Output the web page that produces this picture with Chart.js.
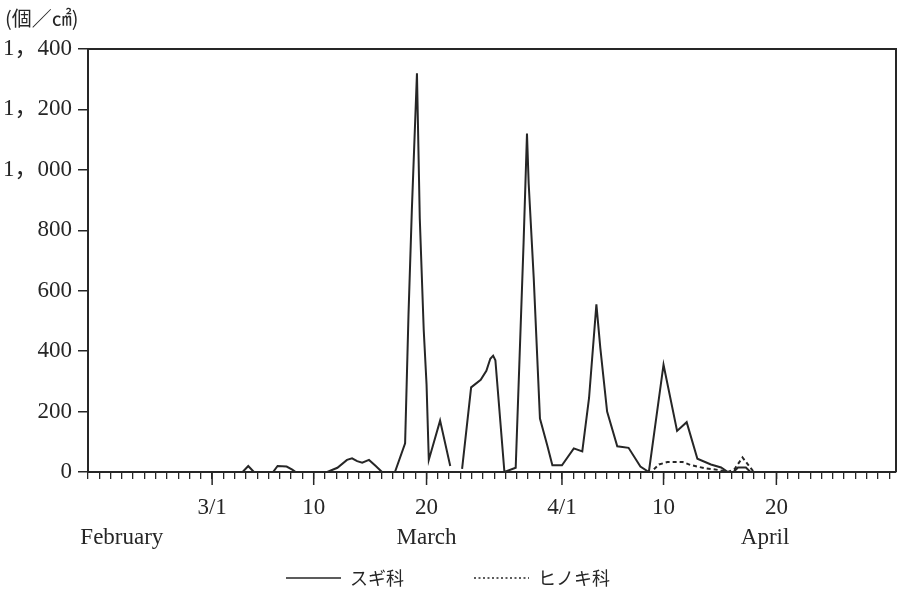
<!DOCTYPE html>
<html>
<head>
<meta charset="utf-8">
<script src="https://cdn.jsdelivr.net/npm/chart.js@4.4.1/dist/chart.umd.min.js"></script>
<style>
html, body { margin: 0; padding: 0; background: #fff; }
</style>
</head>
<body>
<canvas id="pollen" width="899" height="597"></canvas>
<script>
'use strict';
// day numbers counted from March 1 (= 0), so Feb 18 = -11, Apr 1 = 31
const sugiDays = [-11, 2.7, 3.2, 3.7, 5.4, 5.8, 6.6, 7.1, 7.4, 10.2, 11.1, 11.95, 12.4, 12.85, 13.3, 13.9, 14.5, 15.05,
  16.2, 17.1, 17.4, 17.7, 18.15, 18.4, 18.75, 19.0, 19.2, 20.2, 21.1, 21.6, 22.15, 22.95, 23.8, 24.3, 24.65, 24.9, 25.1, 25.9,
  26.9, 27.6, 27.9, 28.05, 28.5, 29.05, 29.7, 30.15, 31.0, 32.05, 32.8, 33.4, 34.05, 34.4, 35.0, 35.9, 36.9, 37.95, 38.7,
  40.0, 41.2, 42.05, 43.0, 44.2, 45.1, 45.7, 46.2, 46.6, 47.3, 47.7, 60.6];
const sugiCounts = [0, 0, 20, 0, 0, 20, 18, 8, 0, 0, 14, 40, 45, 36, 31, 40, 20, 0,
  0, 95, 520, 870, 1320, 840, 470, 290, 40, 170, 20, null, 10, 280, 305, 335, 375, 385, 370, 0,
  14, 760, 1120, 955, 640, 177, 88, 22, 22, 78, 68, 245, 555, 410, 200, 85, 80, 18, 0,
  355, 136, 165, 44, 25, 15, 0, 0, 15, 15, 0, 0];
const hinokiDays = [-11, 38.9, 39.6, 40.35, 41.7, 42.4, 43.6, 44.8, 45.7, 46.3, 47.0, 48.0, 60.6];
const hinokiCounts = [0, 0, 25, 33, 33, 23, 13, 7, 0, 10, 48, 0, 0];

const seriesNames = ['スギ科', 'ヒノキ科'];
const unitLabel = '(個／㎠)';
const yTickValues = [0, 200, 400, 600, 800, 1000, 1200, 1400];
const yTickLabels = ['0', '200', '400', '600', '800', '1，000', '1，200', '1，400'];
const dateTickDays = [0, 9, 19, 31, 40, 50];
const dateTickLabels = ['3/1', '10', '20', '4/1', '10', '20'];
const monthDays = [-8, 19, 49];
const monthLabels = ['February', 'March', 'April'];

const ink = '#262626';
const serif = "'Liberation Serif', 'Noto Sans CJK JP', serif";
const gothic = "'Noto Sans CJK JP', sans-serif";

function toPoints(days, counts) {
  return days.map((d, i) => ({x: d, y: counts[i]}));
}

// box round the plot, long ticks on the labelled days, unit text
const frame = {
  id: 'frame',
  afterDraw(chart) {
    const {ctx, chartArea: a, scales: {x}} = chart;
    ctx.save();
    ctx.strokeStyle = ink;
    ctx.lineWidth = 2;
    ctx.beginPath();
    ctx.moveTo(a.left, a.top);
    ctx.lineTo(a.right, a.top);
    ctx.lineTo(a.right, a.bottom);
    ctx.stroke();
    ctx.lineWidth = 1.5;
    ctx.beginPath();
    dateTickDays.forEach(d => {
      const px = x.getPixelForValue(d);
      ctx.moveTo(px, a.bottom);
      ctx.lineTo(px, a.bottom + 13);
    });
    ctx.stroke();
    ctx.fillStyle = ink;
    ctx.font = '20px ' + gothic;
    ctx.textBaseline = 'middle';
    ctx.fillText(unitLabel, 5, a.top - 31);
    ctx.restore();
  }
};

new Chart(document.getElementById('pollen'), {
  type: 'line',
  data: {
    datasets: [{
      label: seriesNames[0],
      data: toPoints(sugiDays, sugiCounts),
      borderColor: ink,
      backgroundColor: ink,
      borderWidth: 2,
      pointRadius: 0,
      tension: 0,
      spanGaps: false
    }, {
      label: seriesNames[1],
      data: toPoints(hinokiDays, hinokiCounts),
      borderColor: ink,
      backgroundColor: ink,
      borderWidth: 2,
      borderDash: [4, 3],
      pointRadius: 0,
      tension: 0
    }]
  },
  options: {
    responsive: false,
    animation: false,
    devicePixelRatio: 1,
    layout: {padding: {left: 0, top: 49, right: 3, bottom: 0}},
    plugins: {
      title: {display: false},
      tooltip: {enabled: false},
      legend: {
        position: 'bottom',
        labels: {
          usePointStyle: true,
          pointStyle: 'line',
          pointStyleWidth: 55,
          padding: 16,
          color: ink,
          font: {family: gothic, size: 18},
          generateLabels(chart) {
            const items = Chart.defaults.plugins.legend.labels.generateLabels(chart);
            items.forEach((it, i) => {
              it.lineDash = i === 1 ? [2, 2.5] : [];
              it.lineWidth = 1.6;
              // wide gap after the first entry, as in the printed key
              it.text = i === 0 ? seriesNames[0] + '\u3000\u3000\u3000' : seriesNames[1];
            });
            return items;
          }
        }
      }
    },
    scales: {
      x: {
        type: 'linear',
        min: -11,
        max: 60.6,
        border: {color: ink, width: 2},
        grid: {drawOnChartArea: false, color: ink, lineWidth: 1.3, tickLength: 7},
        ticks: {
          stepSize: 1,
          autoSkip: false,
          includeBounds: false,
          maxRotation: 0,
          padding: 14,
          color: ink,
          font: {family: serif, size: 23, lineHeight: 1.3},
          callback(v) {
            const i = dateTickDays.indexOf(v);
            const m = monthDays.indexOf(v);
            if (m < 0) return i < 0 ? '' : dateTickLabels[i];
            return [i < 0 ? '' : dateTickLabels[i], monthLabels[m]];
          }
        },
        afterFit(s) {
          s.height = Math.max(0, 125 - s.chart.legend.height);
          s.paddingLeft = 0;
          s.paddingRight = 0;
        }
      },
      y: {
        min: 0,
        max: 1400,
        border: {color: ink, width: 2},
        grid: {drawOnChartArea: false, color: ink, lineWidth: 1.5, tickLength: 10},
        ticks: {
          stepSize: 200,
          padding: 6,
          color: ink,
          font: {family: serif, size: 23},
          callback(v) {
            const i = yTickValues.indexOf(v);
            return i < 0 ? '' : yTickLabels[i];
          }
        },
        afterFit(s) {
          s.width = 88;
        }
      }
    }
  },
  plugins: [frame]
});
</script>
</body>
</html>
